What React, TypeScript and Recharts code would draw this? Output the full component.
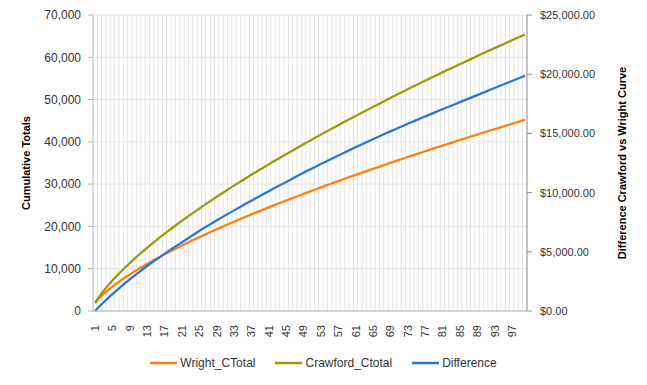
import { LineChart, Line, XAxis, YAxis, CartesianGrid, Legend } from "recharts";

const categories = [
  1, 2, 3, 4, 5, 6, 7, 8, 9, 10,
  11, 12, 13, 14, 15, 16, 17, 18, 19, 20,
  21, 22, 23, 24, 25, 26, 27, 28, 29, 30,
  31, 32, 33, 34, 35, 36, 37, 38, 39, 40,
  41, 42, 43, 44, 45, 46, 47, 48, 49, 50,
  51, 52, 53, 54, 55, 56, 57, 58, 59, 60,
  61, 62, 63, 64, 65, 66, 67, 68, 69, 70,
  71, 72, 73, 74, 75, 76, 77, 78, 79, 80,
  81, 82, 83, 84, 85, 86, 87, 88, 89, 90,
  91, 92, 93, 94, 95, 96, 97, 98, 99, 100,
];

const wrightCTotal = [
  1900, 3081, 4069, 4958, 5779, 6550, 7281, 7980, 8652, 9302,
  9930, 10541, 11137, 11719, 12288, 12845, 13390, 13926, 14452, 14971,
  15481, 15984, 16479, 16968, 17450, 17926, 18397, 18862, 19322, 19778,
  20228, 20674, 21116, 21554, 21988, 22418, 22844, 23266, 23684, 24096,
  24508, 24917, 25323, 25726, 26126, 26523, 26917, 27308, 27696, 28080,
  28464, 28846, 29226, 29604, 29980, 30354, 30726, 31096, 31464, 31830,
  32193, 32554, 32913, 33270, 33625, 33978, 34329, 34681, 35031, 35382,
  35727, 36071, 36413, 36754, 37094, 37433, 37771, 38108, 38444, 38779,
  39112, 39444, 39774, 40103, 40431, 40757, 41082, 41405, 41727, 42047,
  42367, 42686, 43004, 43321, 43637, 43952, 44266, 44579, 44891, 45202,
];

const crawfordCtotal = [
  1900, 3438, 4797, 6042, 7205, 8305, 9355, 10363, 11335, 12276,
  13190, 14080, 14949, 15798, 16630, 17445, 18246, 19033, 19807, 20569,
  21320, 22060, 22790, 23511, 24223, 24926, 25621, 26309, 26989, 27662,
  28329, 28989, 29643, 30291, 30933, 31570, 32202, 32828, 33449, 34066,
  34678, 35286, 35889, 36488, 37083, 37674, 38261, 38844, 39424, 40000,
  40573, 41143, 41709, 42272, 42832, 43389, 43943, 44494, 45042, 45587,
  46129, 46669, 47206, 47741, 48273, 48803, 49330, 49855, 50377, 50897,
  51415, 51931, 52445, 52956, 53465, 53964, 54461, 54956, 55449, 55940,
  56429, 56916, 57402, 57886, 58368, 58849, 59328, 59805, 60281, 60755,
  61227, 61698, 62167, 62635, 63101, 63566, 64029, 64491, 64951, 65409,
];

const difference = [
  0, 375, 735, 1082, 1420, 1745, 2062, 2374, 2680, 2967,
  3248, 3526, 3800, 4062, 4321, 4577, 4830, 5075, 5318, 5560,
  5800, 6042, 6282, 6522, 6760, 6985, 7208, 7430, 7650, 7864,
  8077, 8289, 8500, 8706, 8911, 9116, 9320, 9520, 9720, 9920,
  10120, 10316, 10511, 10706, 10900, 11094, 11287, 11479, 11670, 11857,
  12042, 12227, 12410, 12591, 12771, 12951, 13130, 13306, 13481, 13656,
  13830, 14001, 14171, 14341, 14510, 14676, 14841, 15006, 15170, 15331,
  15491, 15651, 15810, 15966, 16121, 16276, 16430, 16583, 16736, 16888,
  17040, 17190, 17340, 17490, 17640, 17788, 17936, 18083, 18230, 18380,
  18530, 18680, 18830, 18978, 19125, 19273, 19420, 19574, 19727, 19880,
];

const seriesNames = ["Wright_CTotal", "Crawford_Ctotal", "Difference"];
const leftTicks = [0, 10000, 20000, 30000, 40000, 50000, 60000, 70000];
const rightTicks = [0, 5000, 10000, 15000, 20000, 25000];

const data = categories.map((n, i) => ({
  n,
  wright: wrightCTotal[i],
  crawford: crawfordCtotal[i],
  diff: difference[i],
}));

const fmtLeft = (v: number) => v.toLocaleString("en-US");
const fmtRight = (v: number) =>
  "$" + v.toLocaleString("en-US", { minimumFractionDigits: 2, maximumFractionDigits: 2 });

// rotated category labels, top end sitting just under the axis
const XTick = ({ x, y, payload }: any) => (
  <text
    x={x}
    y={y}
    transform={`rotate(-90 ${x} ${y})`}
    textAnchor="end"
    dominantBaseline="central"
    fontSize={11}
    fill="#333"
  >
    {payload.value}
  </text>
);

const AxisTitle = ({ viewBox, text, dx }: any) => {
  const cx = viewBox.x + dx;
  const cy = viewBox.y + viewBox.height / 2;
  return (
    <text
      x={cx}
      y={cy}
      transform={`rotate(-90 ${cx} ${cy})`}
      textAnchor="middle"
      dominantBaseline="central"
      fontSize={11}
      fontWeight="bold"
      fill="#000"
    >
      {text}
    </text>
  );
};

const renderLegend = ({ payload }: any) => {
  const items = [...payload].sort(
    (a: any, b: any) => seriesNames.indexOf(a.value) - seriesNames.indexOf(b.value)
  );
  return (
    <div
      style={{
        display: "flex",
        justifyContent: "center",
        alignItems: "center",
        height: 30,
        fontSize: 12,
        color: "#333",
      }}
    >
      {items.map((p: any, i: number) => (
        <span
          key={p.value}
          style={{ display: "flex", alignItems: "center", marginRight: i < items.length - 1 ? 20 : 0 }}
        >
          <svg width={27} height={4}>
            <line x1={0} y1={2} x2={27} y2={2} stroke={p.color} strokeWidth={2.5} />
          </svg>
          <span style={{ marginLeft: 3 }}>{p.value}</span>
        </span>
      ))}
    </div>
  );
};

export default function App() {
  return (
    <div
      style={{
        position: "absolute",
        left: 0,
        top: 0,
        width: 647,
        height: 385,
        background: "#fff",
        fontFamily: "'Liberation Sans', Arial, sans-serif",
      }}
    >
      <LineChart width={647} height={385} data={data} margin={{ top: 15, right: 0, bottom: 0, left: 0 }}>
        <CartesianGrid
          yAxisId="left"
          stroke="#e3e3e3"
          verticalCoordinatesGenerator={({ offset }: any) =>
            categories.map((_, i) => offset.left + ((i + 1) * offset.width) / categories.length).slice(0, -1)
          }
        />
        <XAxis
          dataKey="n"
          interval={3}
          tickLine={false}
          tickSize={0}
          tickMargin={14}
          height={44}
          padding={{ left: 2, right: 2 }}
          axisLine={{ stroke: "#b3b3b3" }}
          tick={<XTick />}
        />
        <YAxis
          yAxisId="left"
          width={93}
          domain={[0, 70000]}
          ticks={leftTicks}
          tickFormatter={fmtLeft}
          tickSize={5}
          tickMargin={7}
          axisLine={{ stroke: "#b3b3b3" }}
          tickLine={{ stroke: "#b3b3b3" }}
          tick={{ fontSize: 12, fill: "#333" }}
          label={<AxisTitle text="Cumulative Totals" dx={26} />}
        />
        <YAxis
          yAxisId="right"
          orientation="right"
          width={120}
          domain={[0, 25000]}
          ticks={rightTicks}
          tickFormatter={fmtRight}
          tickSize={5}
          tickMargin={8}
          axisLine={{ stroke: "#888" }}
          tickLine={{ stroke: "#888" }}
          tick={{ fontSize: 11, fill: "#333" }}
          label={<AxisTitle text="Difference Crawford vs Wright Curve" dx={95} />}
        />
        <Legend height={30} wrapperStyle={{ bottom: 7 }} content={renderLegend} />
        <Line
          yAxisId="left"
          type="linear"
          dataKey="wright"
          name="Wright_CTotal"
          stroke="#ff7f0e"
          strokeWidth={2.25}
          dot={false}
          isAnimationActive={false}
        />
        <Line
          yAxisId="left"
          type="linear"
          dataKey="crawford"
          name="Crawford_Ctotal"
          stroke="#999a0a"
          strokeWidth={2.25}
          dot={false}
          isAnimationActive={false}
        />
        <Line
          yAxisId="right"
          type="linear"
          dataKey="diff"
          name="Difference"
          stroke="#2a74d8"
          strokeWidth={2.25}
          dot={false}
          isAnimationActive={false}
        />
      </LineChart>
    </div>
  );
}
